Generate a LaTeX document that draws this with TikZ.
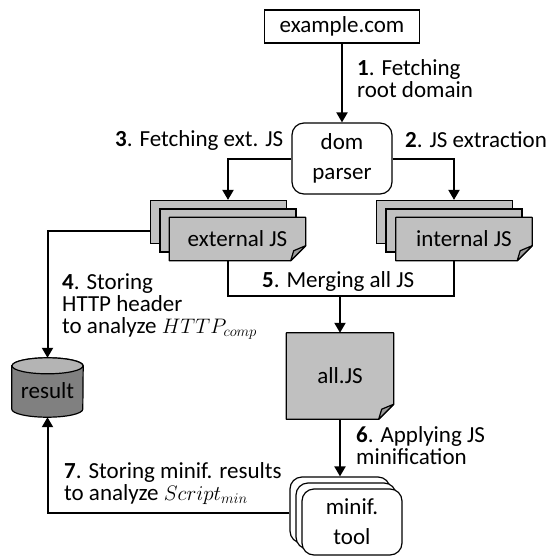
\documentclass[tikz,border=0pt]{standalone}
\usepackage{fix-cm}
\usepackage{fontspec}
\setmainfont{Carlito}
\usetikzlibrary{arrows.meta,calc}

\definecolor{sheet}{HTML}{C0C0C0}
\definecolor{sheetfold}{HTML}{9C9C9C}
\definecolor{dbbody}{HTML}{808080}
\definecolor{dbtop}{HTML}{B4B4B4}

\newcommand\lblfnt{\fontsize{23}{22}\selectfont}
\newcommand\boxfnt{\fontsize{23}{30}\selectfont}
\newcommand\mathfnt{\fontsize{21}{22}\selectfont}

\pgfdeclarelayer{bg}
\pgfsetlayers{bg,main}

% front sheet of a document stack: outline with a folded lower right corner
\newcommand\drawfolded[2]{%
  \draw[line width=1.2pt, fill=sheet, line join=round]
    (#1.north west) -- (#1.north east) -- ([yshift=#2]#1.south east)
    -- ([xshift=-#2]#1.south east) -- (#1.south west) -- cycle;
  \draw[line width=1.2pt, fill=sheetfold, line join=round]
    ([xshift=-#2]#1.south east) -- ([yshift=#2]#1.south east)
    -- ([xshift=-12pt,yshift=10pt]#1.south east) -- cycle;
}

\tikzset{
  box/.style={draw, line width=1.2pt, inner sep=0pt},
  plainbox/.style={box, fill=white, font=\lblfnt},
  roundbox/.style={box, fill=white, rounded corners=12pt, align=center, font=\boxfnt},
  sheetbox/.style={box, fill=sheet, minimum width=136pt, minimum height=43pt},
  docfront/.style={inner sep=0pt, font=\lblfnt},
  conn/.style={line width=2pt, -{Triangle[length=10pt,width=11pt]}},
  link/.style={line width=2pt},
  % multi-line labels are placed by the baseline of their last line
  lbl/.style={inner sep=0pt, align=left, font=\lblfnt, anchor=base west},
}

\begin{document}
\begin{tikzpicture}[x=1pt,y=-1pt]
\useasboundingbox (0,0) rectangle (550,558);

% source and parser
\node[plainbox, minimum width=155pt, minimum height=33pt] (ex) at (342,26.5) {example.com};
\node[roundbox, minimum width=100pt, minimum height=71pt] (dom) at (342,158.5) {dom\\parser};

% script stacks
\node[docfront, minimum width=136pt, minimum height=43pt] (ext1) at (237.5,239) {external JS};
\node[docfront, minimum width=136pt, minimum height=43pt] (int1) at (464,239) {internal JS};
\node[docfront, minimum width=107pt, minimum height=86pt] (all) at (340,376) {all.JS};
\begin{pgfonlayer}{bg}
  \node[sheetbox] (ext3) at (218.5,222) {};
  \node[sheetbox] (ext2) at (228,230.5) {};
  \drawfolded{ext1}{15pt}
  \node[sheetbox] (int3) at (444.5,222) {};
  \node[sheetbox] (int2) at (454,230.5) {};
  \drawfolded{int1}{15pt}
  \drawfolded{all}{15pt}
\end{pgfonlayer}

% minification tool stack
\node[roundbox, minimum width=100pt, minimum height=66pt] (mt3) at (340,510) {};
\node[roundbox, minimum width=100pt, minimum height=66pt] (mt2) at (346,516) {};
\node[roundbox, minimum width=100pt, minimum height=66pt] (mt1) at (352,522) {minif.\\tool};

% result database
\node[inner sep=0pt, minimum width=71pt, minimum height=59pt, font=\lblfnt] (res) at (47.5,387.5) {};
\begin{pgfonlayer}{bg}
  \draw[line width=1.2pt, fill=dbbody]
    ([yshift=-8pt]res.north west) -- ([yshift=8pt]res.south west)
    arc[start angle=180, end angle=360, x radius=35.5pt, y radius=8pt]
    -- ([yshift=-8pt]res.north east)
    arc[start angle=0, end angle=180, x radius=35.5pt, y radius=8pt] -- cycle;
  \draw[line width=1.2pt, fill=dbtop] ([yshift=-8pt]res.north) ellipse[x radius=35.5pt, y radius=8pt];
\end{pgfonlayer}
\node[font=\lblfnt, inner sep=0pt] (restext) at ([yshift=-3pt]res.center) {result};

% connectors
\draw[conn] (ex.south) -- (dom.north);
\draw[conn] (dom.east) -| (int2.north |- int3.north);
\draw[conn] (dom.west) -| (ext2.north |- ext3.north);
\draw[conn] ([yshift=-9pt]ext3.west) -| (res.north);
\coordinate (merge) at (all.north |- 0,296);
\draw[link] (ext2.south |- ext1.south) |- (merge) -| (int2.south |- int1.south);
\draw[conn] (merge) -- (all.north);
\draw[conn] (all.south) -- (mt3.north);
\draw[conn] ([yshift=-3pt]mt3.west) -| (res.south);

% step labels
\node[lbl] (l1) at (357,97) {\textbf{1}. Fetching\\root domain};
\node[lbl] (l2) at (405,147) {\textbf{2}. JS extraction};
\node[lbl] (l3) at (115,146) {\textbf{3}. Fetching ext. JS};
\node[lbl] (l4) at (62,333) {\textbf{4}. Storing\\HTTP header\\to analyze {\mathfnt$HTTP_{comp}$}};
\node[lbl] (l5) at (262,287) {\textbf{5}. Merging all JS};
\node[lbl] (l6) at (356,464) {\textbf{6}. Applying JS\\minification};
\node[lbl] (l7) at (64,500) {\textbf{7}. Storing minif. results\\to analyze {\mathfnt$Script_{min}$}};
\end{tikzpicture}
\end{document}
